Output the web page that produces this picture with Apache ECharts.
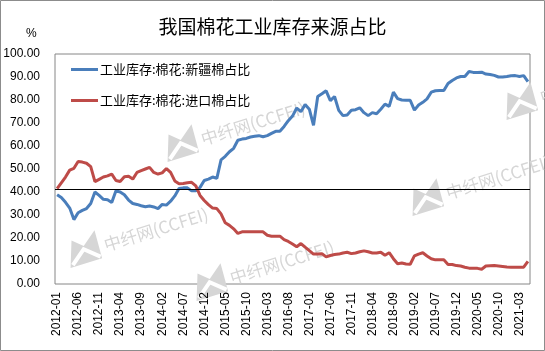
<!DOCTYPE html>
<html>
<head>
	<meta charset="utf-8">
	<title>我国棉花工业库存来源占比</title>
	<script src="https://cdn.jsdelivr.net/npm/echarts@6/dist/echarts.min.js"></script>
	<style type="text/css">
		*{margin:0;padding:0;}
		body{background:#fff;}
		#main{width:545px;height:351px;}
	</style>
</head>
<body>
	<div id="main"></div>
	<script type="text/javascript">
	// 月份（2012-01 ~ 2021-05）
	var months = [
		'2012-01','2012-02','2012-03','2012-04','2012-05','2012-06','2012-07','2012-08','2012-09','2012-10','2012-11','2012-12',
		'2013-01','2013-02','2013-03','2013-04','2013-05','2013-06','2013-07','2013-08','2013-09','2013-10','2013-11','2013-12',
		'2014-01','2014-02','2014-03','2014-04','2014-05','2014-06','2014-07','2014-08','2014-09','2014-10','2014-11','2014-12',
		'2015-01','2015-02','2015-03','2015-04','2015-05','2015-06','2015-07','2015-08','2015-09','2015-10','2015-11','2015-12',
		'2016-01','2016-02','2016-03','2016-04','2016-05','2016-06','2016-07','2016-08','2016-09','2016-10','2016-11','2016-12',
		'2017-01','2017-02','2017-03','2017-04','2017-05','2017-06','2017-07','2017-08','2017-09','2017-10','2017-11','2017-12',
		'2018-01','2018-02','2018-03','2018-04','2018-05','2018-06','2018-07','2018-08','2018-09','2018-10','2018-11','2018-12',
		'2019-01','2019-02','2019-03','2019-04','2019-05','2019-06','2019-07','2019-08','2019-09','2019-10','2019-11','2019-12',
		'2020-01','2020-02','2020-03','2020-04','2020-05','2020-06','2020-07','2020-08','2020-09','2020-10','2020-11','2020-12',
		'2021-01','2021-02','2021-03','2021-04','2021-05'
	];

	// 工业库存:棉花:新疆棉占比
	var xinjiang = [
		38.8,37.6,35.5,33.0,28.0,31.0,32.0,32.8,35.0,40.0,38.5,36.8,
		36.6,35.4,40.5,40.0,38.8,36.5,35.0,34.6,34.0,33.6,33.9,33.5,
		32.8,34.6,34.3,36.0,38.3,41.5,41.8,41.8,40.5,40.5,42.0,45.0,
		45.6,46.5,45.9,54.0,55.5,57.5,59.0,62.5,63.0,63.3,63.9,64.2,
		64.5,64.0,64.5,65.5,66.4,66.4,68.5,71.0,73.0,76.5,74.9,78.0,
		76.0,69.0,81.5,82.7,84.0,79.7,81.5,75.5,73.2,73.5,75.5,75.8,
		76.6,74.5,73.2,74.5,74.0,76.0,78.2,77.2,83.4,80.6,80.0,79.9,
		79.9,75.6,77.8,79.0,80.5,83.4,84.0,84.1,84.1,87.2,88.5,89.6,
		90.2,90.2,92.4,92.0,92.0,92.1,91.3,91.1,90.7,90.0,90.0,90.2,
		90.5,90.6,90.2,90.6,88.0
	];

	// 工业库存:棉花:进口棉占比
	var imported = [
		41.5,44.0,46.5,49.5,50.3,53.3,53.0,52.5,51.0,44.5,45.5,46.5,
		47.0,47.8,45.0,44.6,46.6,46.8,45.6,48.5,49.3,50.0,50.7,48.5,
		47.8,48.3,50.2,48.5,44.8,43.6,43.7,44.0,44.2,42.7,38.5,36.3,
		34.5,33.0,32.8,30.5,26.6,25.5,24.0,22.0,22.7,22.7,22.7,22.7,
		22.7,22.7,21.2,20.8,20.8,20.8,19.3,18.5,17.4,16.2,17.6,16.0,
		14.5,13.0,13.0,13.2,11.8,12.4,12.8,13.0,13.5,13.8,13.2,13.5,
		14.0,14.4,14.0,13.5,13.5,13.8,12.5,13.6,11.0,8.8,9.1,8.7,
		8.6,12.2,13.0,13.6,12.2,11.0,10.5,10.5,10.5,8.5,8.5,8.0,
		7.8,7.3,6.9,6.9,6.8,6.4,7.8,7.9,8.0,7.8,7.6,7.4,
		7.3,7.3,7.3,7.3,9.8
	];

	var refLine = 41;

	// 水印 中纤网(CCFEI)
	var wmColor = '#d6d6d6';
	function watermark(x, y) {
		return {
			type: 'group',
			x: x,
			y: y,
			rotation: 0.3,
			silent: true,
			z: 0,
			children: [
				{
					type: 'polygon',
					shape: {points: [[0, 2], [9, -24], [19, -15], [34, -27], [33, 2]]},
					style: {fill: wmColor}
				},
				{
					type: 'polyline',
					shape: {points: [[3, 0], [18, -12], [32, 0]]},
					style: {stroke: '#fff', lineWidth: 4, fill: null}
				},
				{
					type: 'text',
					x: 39,
					y: -18,
					style: {text: '中纤网(CCFEI)', fill: wmColor, font: '17px "Noto Sans CJK SC", sans-serif'}
				}
			]
		};
	}

	var myChart = echarts.init(document.getElementById('main'));
	var option = {
		animation: false,
		backgroundColor: '#fff',
		color: ['#4a7ebb', '#be4b48'],
		title: {
			text: '我国棉花工业库存来源占比',
			left: 'center',
			top: 12,
			textStyle: {
				fontFamily: '"Noto Sans CJK SC", sans-serif',
				fontSize: 19,
				fontWeight: 'normal',
				color: '#000'
			}
		},
		graphic: [
			{
				type: 'rect',
				shape: {x: 0.5, y: 0.5, width: 544, height: 350},
				style: {fill: 'none', stroke: '#8c8c8c', lineWidth: 1},
				silent: true
			},
			{
				type: 'text',
				left: 26,
				top: 28,
				style: {text: '%', fill: '#000', font: '12px "Liberation Sans", Arial, sans-serif'}
			},
			watermark(167, 160),
			watermark(70, 266),
			watermark(412, 214),
			watermark(506, 118),
			watermark(196, 299)
		],
		legend: {
			orient: 'vertical',
			left: 66,
			top: 56,
			icon: 'rect',
			itemWidth: 27,
			itemHeight: 3,
			itemGap: 14,
			textStyle: {
				fontFamily: '"Noto Sans CJK SC", sans-serif',
				fontSize: 13,
				color: '#000',
				lineHeight: 17,
				padding: [0, 0, 0, -3]
			},
			data: ['工业库存:棉花:新疆棉占比', '工业库存:棉花:进口棉占比']
		},
		grid: {
			left: 55,
			right: 15,
			top: 54,
			bottom: 67,
			show: true,
			borderColor: '#868686',
			borderWidth: 1
		},
		xAxis: {
			type: 'category',
			data: months,
			boundaryGap: true,
			axisLine: {show: false},
			axisTick: {show: false},
			axisLabel: {
				interval: 4,
				rotate: 90,
				margin: 8,
				fontFamily: '"Liberation Sans", Arial, sans-serif',
				fontSize: 12,
				color: '#000'
			}
		},
		yAxis: {
			type: 'value',
			min: 0,
			max: 100,
			interval: 10,
			axisLine: {show: false},
			axisTick: {show: false},
			splitLine: {show: false},
			axisLabel: {
				margin: 15,
				fontFamily: '"Liberation Sans", Arial, sans-serif',
				fontSize: 12,
				color: '#000',
				formatter: function (v) { return v.toFixed(2); }
			}
		},
		series: [
			{
				name: '工业库存:棉花:新疆棉占比',
				type: 'line',
				data: xinjiang,
				showSymbol: false,
				lineStyle: {width: 3},
				markLine: {
					silent: true,
					symbol: 'none',
					label: {show: false},
					lineStyle: {color: '#000', width: 1, type: 'solid'},
					data: [{yAxis: refLine}]
				}
			},
			{
				name: '工业库存:棉花:进口棉占比',
				type: 'line',
				data: imported,
				showSymbol: false,
				lineStyle: {width: 3}
			}
		]
	};
	myChart.setOption(option);
	</script>
</body>
</html>
